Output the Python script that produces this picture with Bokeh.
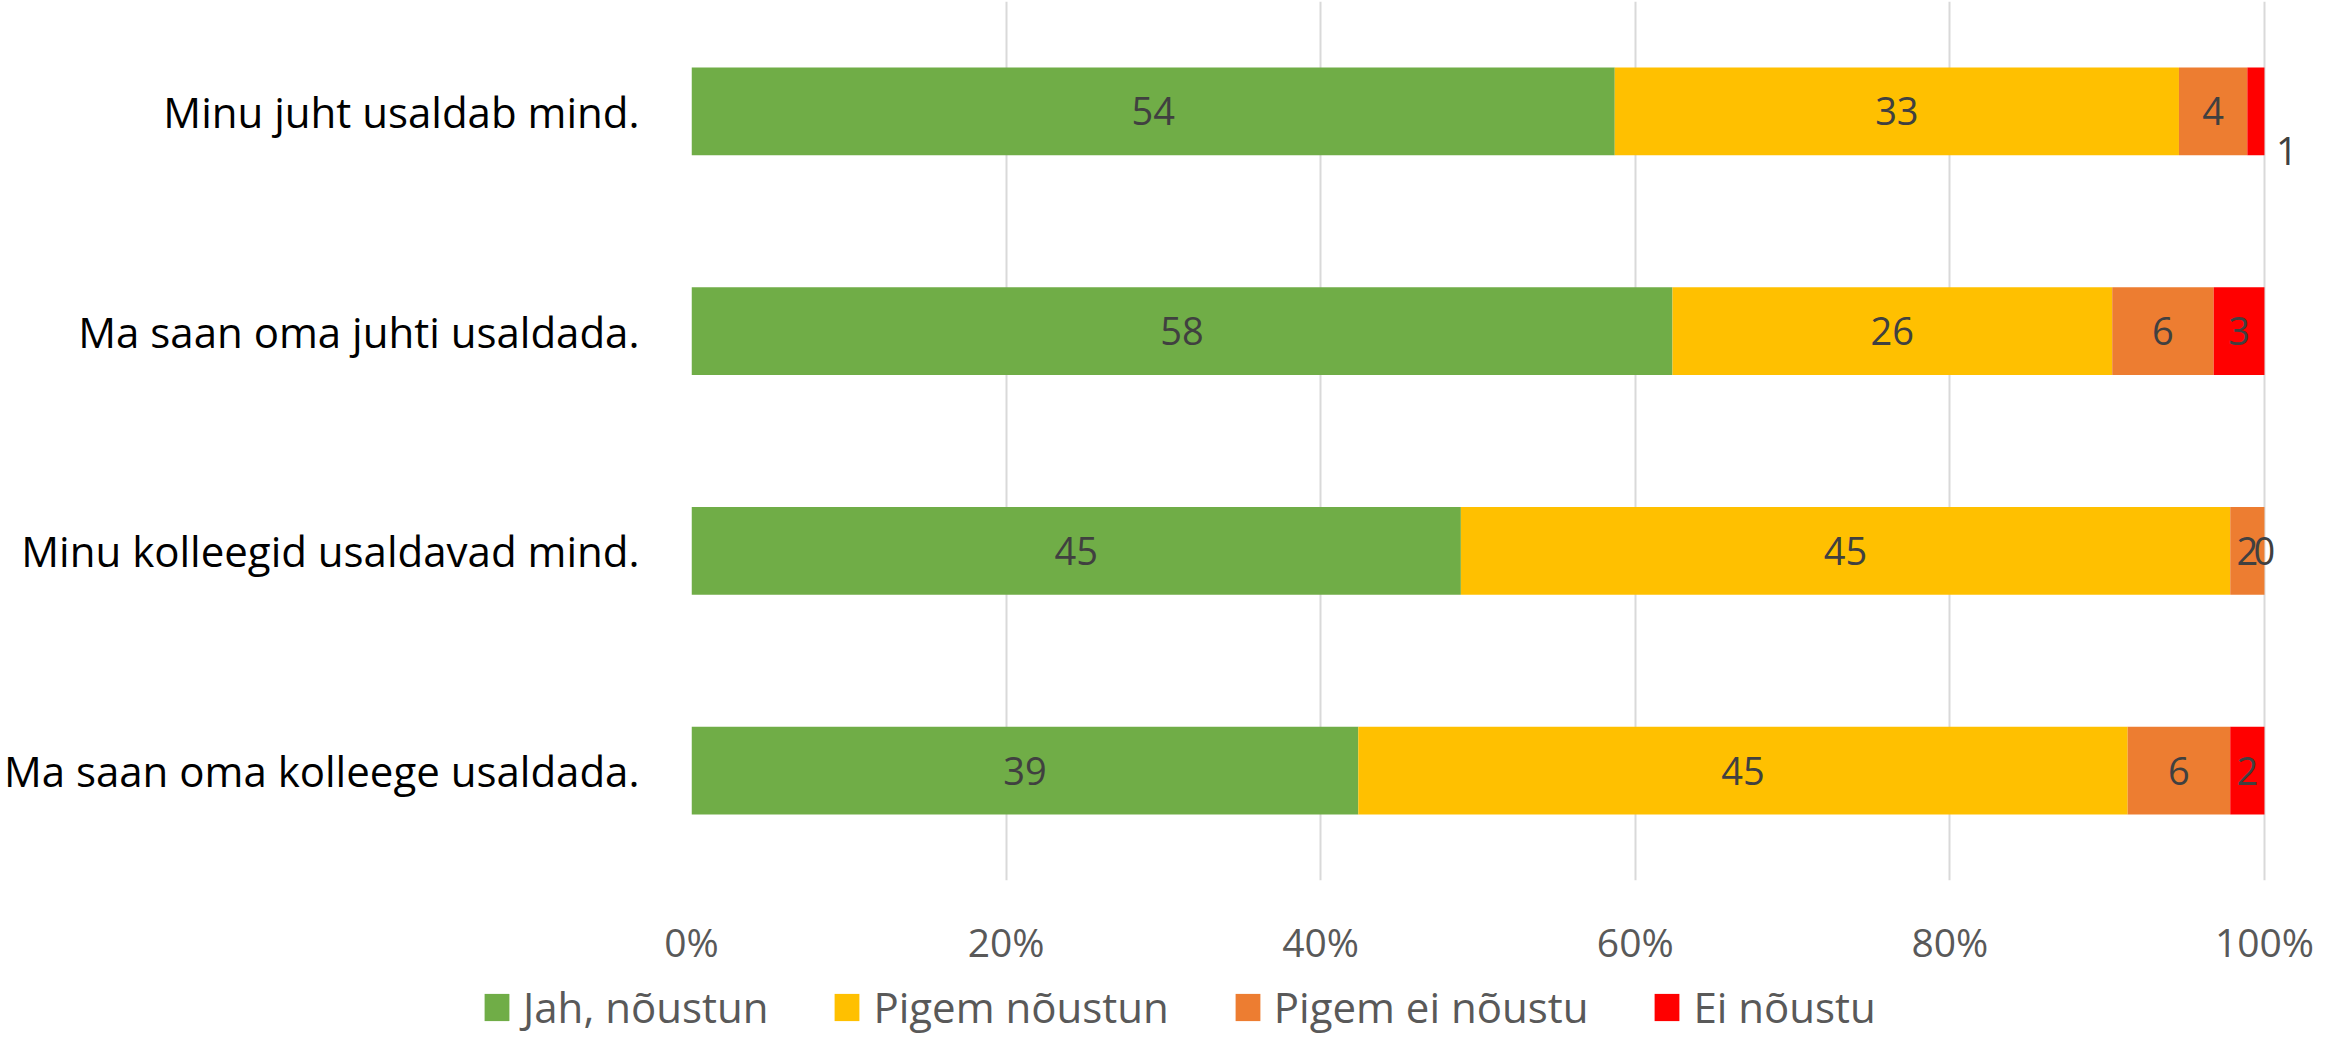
from bokeh.plotting import figure
from bokeh.models import (ColumnDataSource, FactorRange, Range1d, FixedTicker,
                          NumeralTickFormatter, Legend, LegendItem)
from bokeh.core.properties import value
from bokeh.embed import file_html
from bokeh.resources import INLINE

# ---- data ----
categories = ["Minu juht usaldab mind.",
              "Ma saan oma juhti usaldada.",
              "Minu kolleegid usaldavad mind.",
              "Ma saan oma kolleege usaldada."]
series_names = ["Jah, nõustun", "Pigem nõustun", "Pigem ei nõustu", "Ei nõustu"]
jah = [54, 58, 45, 39]
pigem_noustun = [33, 26, 45, 45]
pigem_ei = [4, 6, 2, 6]
ei = [1, 3, 0, 2]
tick_values = [0, 0.2, 0.4, 0.6, 0.8, 1.0]

colors = ["#70AD47", "#FFC000", "#ED7D31", "#FF0000"]
FONT = "Open Sans"

series = [jah, pigem_noustun, pigem_ei, ei]
keys = ["s0", "s1", "s2", "s3"]
totals = [sum(v) for v in zip(*series)]

data = {"cat": categories}
for k, s in zip(keys, series):
    data[k] = [v / t for v, t in zip(s, totals)]
src = ColumnDataSource(data)

W = 2322
H1 = 970   # chart
H2 = 65    # legend strip
X_END = 1.035

p = figure(width=W, height=H1, output_backend="svg", toolbar_location=None,
           y_range=FactorRange(factors=list(reversed(categories))),
           x_range=Range1d(0, X_END))
p.min_border_left = 686
p.min_border_right = 3
p.min_border_top = 1
p.min_border_bottom = H1 - 880
p.outline_line_color = None
p.background_fill_color = "white"

p.hbar_stack(keys, y="cat", height=0.4, color=colors,
             line_color=None, source=src)

# data labels
lx, ly, lt, xo, yo = [], [], [], [], []
for i, cat in enumerate(categories):
    cum = 0.0
    for j, k in enumerate(keys):
        frac = data[k][i]
        center = cum + frac / 2
        cum += frac
        lx.append(center)
        ly.append(cat)
        lt.append(str(series[j][i]))
        # Excel moved the tiny last label of the first row outside the bar
        if i == 0 and j == 3:
            xo.append(31)
            yo.append(40)
        else:
            xo.append(0)
            yo.append(0)
lsrc = ColumnDataSource(dict(x=lx, y=ly, t=lt, xo=xo, yo=yo))
p.text(x="x", y="y", text="t", source=lsrc, x_offset="xo", y_offset="yo",
       text_align="center", text_baseline="middle",
       text_font=value(FONT), text_font_size="38px", text_color="#404040")

# axes
p.xaxis.ticker = FixedTicker(ticks=tick_values)
p.xaxis.formatter = NumeralTickFormatter(format="0%")
p.xaxis.axis_line_color = None
p.xaxis.major_tick_line_color = None
p.xaxis.minor_tick_line_color = None
p.xaxis.major_label_text_font = FONT
p.xaxis.major_label_text_font_size = "39px"
p.xaxis.major_label_text_color = "#595959"
p.xaxis.major_label_standoff = 28

p.yaxis.axis_line_color = None
p.yaxis.major_tick_line_color = None
p.yaxis.minor_tick_line_color = None
p.yaxis.major_label_text_font = FONT
p.yaxis.major_label_text_font_size = "42px"
p.yaxis.major_label_text_color = "#000000"
p.yaxis.major_label_standoff = 46

p.xgrid.ticker = FixedTicker(ticks=tick_values)
p.xgrid.grid_line_color = "#D9D9D9"
p.xgrid.grid_line_width = 2
p.ygrid.grid_line_color = None

# legend strip: its own small figure (separate root) so nothing is clipped
lg = figure(width=W, height=H2, output_backend="svg", toolbar_location=None,
            x_axis_type=None, y_axis_type=None,
            x_range=Range1d(0, 1), y_range=Range1d(0, 1),
            min_border_left=0, min_border_right=0,
            min_border_top=0, min_border_bottom=0)
lg.outline_line_color = None
lg.background_fill_color = "white"
lg.grid.visible = False
# zero-area proxies that only carry the legend swatch colours
swatches = [lg.hbar(y=[0], left=[0], right=[0], height=0, color=c,
                    line_color=None)
            for c in colors]
legend = Legend(items=[LegendItem(label=n, renderers=[r])
                       for n, r in zip(series_names, swatches)],
                orientation="horizontal", location=(481, 0),
                glyph_width=31, glyph_height=34, label_standoff=11,
                spacing=63, padding=0, margin=0,
                label_text_font=FONT, label_text_font_size="42px",
                label_text_color="#595959",
                border_line_color=None, background_fill_alpha=0)
lg.add_layout(legend)

open("out.html", "w").write(file_html([p, lg], INLINE))
